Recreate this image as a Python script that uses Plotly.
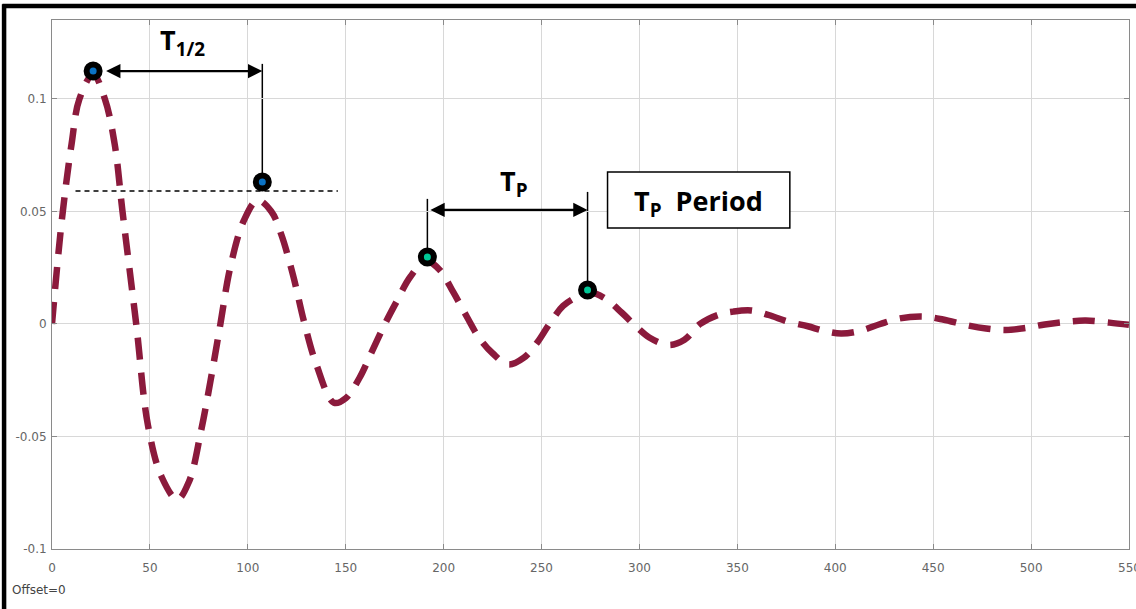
import plotly.graph_objects as go

# ---- data ----
t_values = [0, 5, 10, 14, 21, 27, 32, 36, 43, 49, 56, 64, 70, 76, 81, 86, 91, 98,
            105, 112, 117, 123, 129, 135, 144, 150, 157, 163, 170, 176, 183, 191,
            198, 205, 212, 218, 225, 233, 241, 248, 254, 261, 268, 275, 283, 291,
            297, 305, 315, 323, 331, 340, 348, 357, 366, 376, 386, 394, 403, 413,
            423, 433, 445, 455, 467, 477, 487, 497, 507, 518, 528, 540, 550]
response = [0, 0.046, 0.08, 0.1, 0.111, 0.1, 0.08, 0.05, 0.0, -0.045, -0.068,
            -0.078, -0.07, -0.048, -0.025, 0.0, 0.025, 0.046, 0.055, 0.05, 0.04,
            0.022, 0.0, -0.018, -0.035, -0.033, -0.024, -0.013, 0.0, 0.01, 0.021,
            0.028, 0.024, 0.014, 0.003, -0.006, -0.013, -0.018, -0.015, -0.008,
            0.0, 0.008, 0.012, 0.014, 0.011, 0.005, 0.0, -0.006, -0.0093, -0.007,
            0.0, 0.004, 0.0055, 0.006, 0.004, 0.001, -0.001, -0.003, -0.0042,
            -0.003, 0.0, 0.0025, 0.0033, 0.002, -0.0005, -0.002, -0.0027, -0.0018,
            -0.0002, 0.001, 0.0015, 0.0006, -0.0004]

half_marker_x = [21, 107.4]
half_marker_y = [0.1124, 0.0631]
period_marker_x = [191.7, 273.5]
period_marker_y = [0.0298, 0.0151]

x_ticks = [0, 50, 100, 150, 200, 250, 300, 350, 400, 450, 500]
x_last_tick = 550
y_ticks = [-0.1, -0.05, 0, 0.05, 0.1]
y_tick_labels = ["-0.1", "-0.05", "0", "0.05", "0.1"]

curve_color = "#8b1a3c"
blue = "#0a72c4"
green = "#00c896"
tick_font = dict(family="DejaVu Sans, Verdana, sans-serif", size=12, color="#666")

fig = go.Figure()
fig.add_trace(go.Scatter(
    x=t_values, y=response, mode="lines", line_shape="spline",
    line=dict(color=curve_color, width=6.5, dash="22px,13px"),
    showlegend=False, hoverinfo="skip"))

# half-life helpers
fig.add_shape(type="line", xref="x", yref="y", x0=12, x1=146, y0=0.0591, y1=0.0591,
              line=dict(color="black", width=1.5, dash="5px,4px"))
fig.add_shape(type="line", xref="x", yref="y", x0=half_marker_x[1], x1=half_marker_x[1],
              y0=0.1156, y1=half_marker_y[1], line=dict(color="black", width=1.5),
              layer="below")
fig.add_annotation(x=half_marker_x[1], y=half_marker_y[0], ax=26.1, ay=half_marker_y[0],
                   xref="x", yref="y", axref="x", ayref="y", text=" ",
                   showarrow=True, arrowhead=2, arrowside="end+start",
                   arrowsize=1.3, arrowwidth=2.2, arrowcolor="black")
# period helpers
fig.add_shape(type="line", xref="x", yref="y", x0=period_marker_x[0], x1=period_marker_x[0],
              y0=0.0556, y1=period_marker_y[0], line=dict(color="black", width=1.5),
              layer="below")
fig.add_shape(type="line", xref="x", yref="y", x0=period_marker_x[1], x1=period_marker_x[1],
              y0=0.0587, y1=period_marker_y[1], line=dict(color="black", width=1.5),
              layer="below")
fig.add_annotation(x=period_marker_x[1], y=0.0507, ax=period_marker_x[0], ay=0.0507,
                   xref="x", yref="y", axref="x", ayref="y", text=" ",
                   showarrow=True, arrowhead=2, arrowside="end+start",
                   arrowsize=1.3, arrowwidth=2.2, arrowcolor="black")

fig.add_trace(go.Scatter(
    x=half_marker_x, y=half_marker_y, mode="markers",
    marker=dict(size=13, color=blue, line=dict(color="black", width=6)),
    showlegend=False, hoverinfo="skip"))
fig.add_trace(go.Scatter(
    x=period_marker_x, y=period_marker_y, mode="markers",
    marker=dict(size=13, color=green, line=dict(color="black", width=6)),
    showlegend=False, hoverinfo="skip"))

label_font = dict(family="Open Sans, DejaVu Sans, sans-serif", size=27, color="black")
fig.add_annotation(x=66.5, y=0.1255, xref="x", yref="y", text="<b>T<sub>1/2</sub></b>",
                   showarrow=False, font=label_font)
fig.add_annotation(x=236, y=0.0628, xref="x", yref="y", text="<b>T<sub>P</sub></b>",
                   showarrow=False, font=label_font)
fig.add_shape(type="rect", xref="x", yref="y", x0=283.7, x1=376.8, y0=0.0427, y1=0.0676,
              line=dict(color="black", width=1.5), fillcolor="white")
fig.add_annotation(x=330, y=0.0542, xref="x", yref="y", text="<b>T<sub>P</sub>  Period</b>",
                   showarrow=False, font=label_font)

# last x tick label, cut by the right edge as in the reference
fig.add_annotation(x=x_last_tick, y=0, xref="x", yref="paper", yanchor="top", yshift=-10,
                   text=str(x_last_tick), showarrow=False, font=tick_font)

fig.add_annotation(x=-0.039, y=-0.078, xref="paper", yref="paper", xanchor="left",
                   yanchor="middle", text="Offset=0", showarrow=False,
                   font=dict(family="DejaVu Sans, Verdana, sans-serif", size=12, color="#444"))

# outer black frame (top & left)
fig.add_shape(type="line", xref="paper", yref="paper", x0=-0.046, x1=1.01, y0=1.0265, y1=1.0265,
              line=dict(color="black", width=4.5))
fig.add_shape(type="line", xref="paper", yref="paper", x0=-0.0445, x1=-0.0445, y0=-0.12, y1=1.03,
              line=dict(color="black", width=4.5))

axis_common = dict(showgrid=True, gridcolor="#d8d8d8", gridwidth=1, showline=True,
                   linecolor="#8a8a8a", linewidth=1, mirror="ticks", ticks="inside",
                   ticklen=5, tickcolor="#8a8a8a", zeroline=False, automargin=False,
                   tickfont=tick_font)
fig.update_xaxes(range=[0, 550], tickvals=x_ticks, ticklabelstandoff=8, **axis_common)
fig.update_yaxes(range=[-0.1, 0.1351], tickvals=y_ticks, ticktext=y_tick_labels,
                 ticklabelstandoff=2, **axis_common)

fig.update_layout(width=1136, height=609, margin=dict(l=52, r=7, t=20, b=60),
                  plot_bgcolor="white", paper_bgcolor="white", showlegend=False)

fig.write_html("out.html", config={"displayModeBar": False},
               post_script="document.body.style.margin='0';document.body.style.overflow='hidden';")
